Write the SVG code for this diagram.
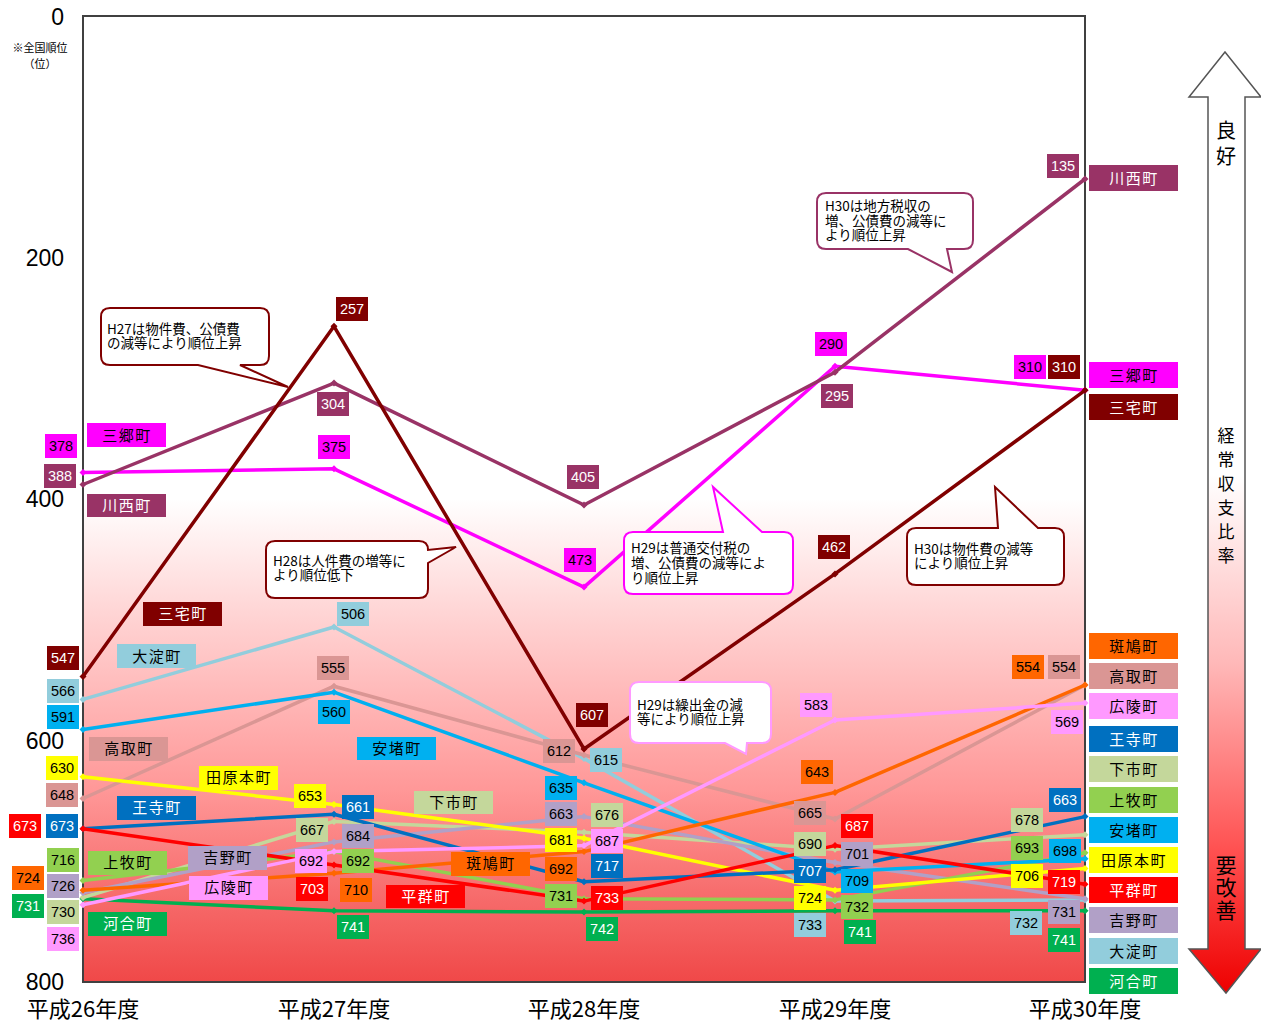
<svg xmlns="http://www.w3.org/2000/svg" width="1261" height="1024" viewBox="0 0 1261 1024">
<defs>
<linearGradient id="bg" x1="0" y1="0" x2="0" y2="1">
<stop offset="0" stop-color="#ffffff"/>
<stop offset="0.5" stop-color="#ffffff"/>
<stop offset="0.62" stop-color="#ffd4d4"/>
<stop offset="0.8" stop-color="#ff9898"/>
<stop offset="1" stop-color="#f04848"/>
</linearGradient>
<linearGradient id="arr" x1="0" y1="0" x2="0" y2="1">
<stop offset="0" stop-color="#ffffff"/>
<stop offset="0.45" stop-color="#ffffff"/>
<stop offset="0.65" stop-color="#ffb8b8"/>
<stop offset="0.85" stop-color="#ff5050"/>
<stop offset="1" stop-color="#ee0000"/>
</linearGradient>
<marker id="m1" viewBox="-4 -4 8 8" markerWidth="8" markerHeight="8" markerUnits="userSpaceOnUse"><path d="M0,-3.5L3.5,0L0,3.5L-3.5,0Z" fill="#993366"/></marker>
<marker id="m2" viewBox="-4 -4 8 8" markerWidth="8" markerHeight="8" markerUnits="userSpaceOnUse"><path d="M0,-3.5L3.5,0L0,3.5L-3.5,0Z" fill="#FF00FF"/></marker>
<marker id="m3" viewBox="-4 -4 8 8" markerWidth="8" markerHeight="8" markerUnits="userSpaceOnUse"><path d="M0,-3.5L3.5,0L0,3.5L-3.5,0Z" fill="#800000"/></marker>
<marker id="m4" viewBox="-4 -4 8 8" markerWidth="8" markerHeight="8" markerUnits="userSpaceOnUse"><path d="M0,-3.5L3.5,0L0,3.5L-3.5,0Z" fill="#92CDDC"/></marker>
<marker id="m5" viewBox="-4 -4 8 8" markerWidth="8" markerHeight="8" markerUnits="userSpaceOnUse"><path d="M0,-3.5L3.5,0L0,3.5L-3.5,0Z" fill="#00B0F0"/></marker>
<marker id="m6" viewBox="-4 -4 8 8" markerWidth="8" markerHeight="8" markerUnits="userSpaceOnUse"><path d="M0,-3.5L3.5,0L0,3.5L-3.5,0Z" fill="#FFFF00"/></marker>
<marker id="m7" viewBox="-4 -4 8 8" markerWidth="8" markerHeight="8" markerUnits="userSpaceOnUse"><path d="M0,-3.5L3.5,0L0,3.5L-3.5,0Z" fill="#DA9694"/></marker>
<marker id="m8" viewBox="-4 -4 8 8" markerWidth="8" markerHeight="8" markerUnits="userSpaceOnUse"><path d="M0,-3.5L3.5,0L0,3.5L-3.5,0Z" fill="#0070C0"/></marker>
<marker id="m9" viewBox="-4 -4 8 8" markerWidth="8" markerHeight="8" markerUnits="userSpaceOnUse"><path d="M0,-3.5L3.5,0L0,3.5L-3.5,0Z" fill="#FF0000"/></marker>
<marker id="m10" viewBox="-4 -4 8 8" markerWidth="8" markerHeight="8" markerUnits="userSpaceOnUse"><path d="M0,-3.5L3.5,0L0,3.5L-3.5,0Z" fill="#92D050"/></marker>
<marker id="m11" viewBox="-4 -4 8 8" markerWidth="8" markerHeight="8" markerUnits="userSpaceOnUse"><path d="M0,-3.5L3.5,0L0,3.5L-3.5,0Z" fill="#FF6600"/></marker>
<marker id="m12" viewBox="-4 -4 8 8" markerWidth="8" markerHeight="8" markerUnits="userSpaceOnUse"><path d="M0,-3.5L3.5,0L0,3.5L-3.5,0Z" fill="#B1A0C7"/></marker>
<marker id="m13" viewBox="-4 -4 8 8" markerWidth="8" markerHeight="8" markerUnits="userSpaceOnUse"><path d="M0,-3.5L3.5,0L0,3.5L-3.5,0Z" fill="#C4D79B"/></marker>
<marker id="m14" viewBox="-4 -4 8 8" markerWidth="8" markerHeight="8" markerUnits="userSpaceOnUse"><path d="M0,-3.5L3.5,0L0,3.5L-3.5,0Z" fill="#FF99FF"/></marker>
<marker id="m15" viewBox="-4 -4 8 8" markerWidth="8" markerHeight="8" markerUnits="userSpaceOnUse"><path d="M0,-3.5L3.5,0L0,3.5L-3.5,0Z" fill="#00B050"/></marker>
</defs>
<style>
text{font-family:"Noto Sans CJK JP","Liberation Sans",sans-serif;}
.ax{font-family:"Liberation Sans","Noto Sans CJK JP",sans-serif;font-size:23px;text-anchor:end;fill:#000}
.xl{font-size:22px;text-anchor:middle;fill:#000}
.sm{font-size:11px;text-anchor:middle;fill:#000}
.vt{font-size:19px;text-anchor:middle;fill:#000}
.ln{fill:none;stroke-width:3.5;stroke-linejoin:round}
.v rect{stroke:none}
.v text{font-family:"Liberation Sans","Noto Sans CJK JP",sans-serif;font-size:14.5px;text-anchor:middle}
.n text{font-size:15px;text-anchor:middle;letter-spacing:1.5px}
.co{fill:#fff;stroke-width:2}
.co text{font-size:13.5px;fill:#000;stroke:none}
.w{fill:#fff}.b{fill:#000}
.c1{fill:#993366}.c2{fill:#FF00FF}.c3{fill:#800000}.c4{fill:#92CDDC}.c5{fill:#00B0F0}
.c6{fill:#FFFF00}.c7{fill:#DA9694}.c8{fill:#0070C0}.c9{fill:#FF0000}.c10{fill:#92D050}
.c11{fill:#FF6600}.c12{fill:#B1A0C7}.c13{fill:#C4D79B}.c14{fill:#FF99FF}.c15{fill:#00B050}
</style>

<rect x="0" y="0" width="1261" height="1024" fill="#fff"/>

<g id="plot">
<rect x="83" y="16" width="1002" height="966" fill="url(#bg)" stroke="#404040" stroke-width="2"/>
</g>

<g id="axes">
<text class="ax" x="64" y="25">0</text>
<text class="ax" x="64" y="266">200</text>
<text class="ax" x="64" y="507">400</text>
<text class="ax" x="64" y="749">600</text>
<text class="ax" x="64" y="990">800</text>
<text class="sm" x="40" y="52">※全国順位</text>
<text class="sm" x="40" y="68">（位）</text>
<text class="xl" x="83" y="1017">平成26年度</text>
<text class="xl" x="334" y="1017">平成27年度</text>
<text class="xl" x="584" y="1017">平成28年度</text>
<text class="xl" x="835" y="1017">平成29年度</text>
<text class="xl" x="1085" y="1017">平成30年度</text>
</g>

<g id="arrow">
<path d="M1225,52 L1261,97 L1245,97 L1245,949 L1261,949 L1226,993 L1189,949 L1208,949 L1208,97 L1189,97 Z" fill="url(#arr)" stroke="#555" stroke-width="1.5" stroke-linejoin="miter"/>
<text class="vt" x="1226" y="138" style="font-size:20px">良</text>
<text class="vt" x="1226" y="164" style="font-size:20px">好</text>
<text class="vt" x="1226" y="442" style="font-size:17px">経</text>
<text class="vt" x="1226" y="466" style="font-size:17px">常</text>
<text class="vt" x="1226" y="490" style="font-size:17px">収</text>
<text class="vt" x="1226" y="514" style="font-size:17px">支</text>
<text class="vt" x="1226" y="538" style="font-size:17px">比</text>
<text class="vt" x="1226" y="562" style="font-size:17px">率</text>
<text class="vt" x="1226" y="873" style="font-size:21px">要</text>
<text class="vt" x="1226" y="895" style="font-size:21px">改</text>
<text class="vt" x="1226" y="918" style="font-size:21px">善</text>
</g>

<g id="connectors">
<polyline class="ln" stroke="#00B050" marker-start="url(#m15)" marker-mid="url(#m15)" marker-end="url(#m15)" points="83,898.7 334,910.8 584,912 835,910.8 1085,910.8"/>
<polyline class="ln" stroke="#92CDDC" marker-start="url(#m4)" marker-mid="url(#m4)" marker-end="url(#m4)" points="83,699.4 334,627 584,758.6 835,901.1 1085,899.9"/>
<polyline class="ln" stroke="#C4D79B" marker-start="url(#m13)" marker-mid="url(#m13)" marker-end="url(#m13)" points="83,897.5 334,821.4 584,832.3 835,849.2 1085,834.7"/>
<polyline class="ln" stroke="#DA9694" marker-start="url(#m7)" marker-mid="url(#m7)" marker-end="url(#m7)" points="83,798.5 334,686.2 584,755 835,819 1085,685"/>
<polyline class="ln" stroke="#B1A0C7" marker-start="url(#m12)" marker-mid="url(#m12)" marker-end="url(#m12)" points="83,892.7 334,841.9 584,816.6 835,862.5 1085,898.7"/>
<polyline class="ln" stroke="#92D050" marker-start="url(#m10)" marker-mid="url(#m10)" marker-end="url(#m10)" points="83,880.6 334,851.6 584,898.7 835,899.9 1085,852.8"/>
<polyline class="ln" stroke="#FFFF00" marker-start="url(#m6)" marker-mid="url(#m6)" marker-end="url(#m6)" points="83,776.7 334,804.5 584,838.3 835,890.2 1085,868.5"/>
<polyline class="ln" stroke="#00B0F0" marker-start="url(#m5)" marker-mid="url(#m5)" marker-end="url(#m5)" points="83,729.6 334,692.2 584,782.8 835,872.1 1085,858.8"/>
<polyline class="ln" stroke="#FF6600" marker-start="url(#m11)" marker-mid="url(#m11)" marker-end="url(#m11)" points="83,890.2 334,873.3 584,851.6 835,792.4 1085,685"/>
<polyline class="ln" stroke="#0070C0" marker-start="url(#m8)" marker-mid="url(#m8)" marker-end="url(#m8)" points="83,828.7 334,814.2 584,881.8 835,869.7 1085,816.6"/>
<polyline class="ln" stroke="#FF0000" marker-start="url(#m9)" marker-mid="url(#m9)" marker-end="url(#m9)" points="83,828.7 334,864.9 584,901.1 835,845.6 1085,884.2"/>
<polyline class="ln" stroke="#FF99FF" marker-start="url(#m14)" marker-mid="url(#m14)" marker-end="url(#m14)" points="83,904.7 334,851.6 584,845.6 835,720 1085,703.1"/>
<polyline class="ln" stroke="#FF00FF" marker-start="url(#m2)" marker-mid="url(#m2)" marker-end="url(#m2)" points="83,472.4 334,468.8 584,587.1 835,366.2 1085,390.3"/>
<polyline class="ln" stroke="#993366" marker-start="url(#m1)" marker-mid="url(#m1)" marker-end="url(#m1)" points="83,484.5 334,383.1 584,505 835,372.2 1085,179"/>
<polyline class="ln" stroke="#800000" marker-start="url(#m3)" marker-mid="url(#m3)" marker-end="url(#m3)" points="83,676.5 334,326.3 584,749 835,573.9 1085,390.3"/>
</g>

<g id="callouts">
<g id="note-h27" class="co" stroke="#800000">
<path d="M110,308 H260 Q269,308 269,317 V356 Q269,365 260,365 H240 L288,387 L198,365 H110 Q101,365 101,356 V317 Q101,308 110,308 Z"/>
<text x="107" y="334">H27は物件費、公債費<tspan x="107" y="348">の減等により順位上昇</tspan></text>
</g>
<g id="note-h28" class="co" stroke="#800000">
<path d="M275,541 H419 Q428,541 428,550 L456,547 L428,563 V589 Q428,598 419,598 H275 Q266,598 266,589 V550 Q266,541 275,541 Z"/>
<text x="273" y="566">H28は人件費の増等に<tspan x="273" y="580">より順位低下</tspan></text>
</g>
<g id="note-h29a" class="co" stroke="#FF00FF">
<path d="M633,532 H723 L713,487 L762,532 H784 Q793,532 793,541 V585 Q793,594 784,594 H633 Q624,594 624,585 V541 Q624,532 633,532 Z"/>
<text x="631" y="553">H29は普通交付税の<tspan x="631" y="568">増、公債費の減等によ</tspan><tspan x="631" y="583">り順位上昇</tspan></text>
</g>
<g id="note-h29b" class="co" stroke="#FF99FF">
<path d="M639,682 H762 Q771,682 771,691 V734 Q771,743 762,743 H747 L746,754 L725,743 H639 Q630,743 630,734 V691 Q630,682 639,682 Z"/>
<text x="637" y="710">H29は繰出金の減<tspan x="637" y="724">等により順位上昇</tspan></text>
</g>
<g id="note-h30a" class="co" stroke="#800000">
<path d="M916,528 H998 L995,487 L1038,528 H1055 Q1064,528 1064,537 V576 Q1064,585 1055,585 H916 Q907,585 907,576 V537 Q907,528 916,528 Z"/>
<text x="914" y="554">H30は物件費の減等<tspan x="914" y="568">により順位上昇</tspan></text>
</g>
<g id="note-h30b" class="co" stroke="#993366">
<path d="M826,193 H964 Q973,193 973,202 V240 Q973,249 964,249 H947 L952,272 L908,249 H826 Q817,249 817,240 V202 Q817,193 826,193 Z"/>
<text x="825" y="211">H30は地方税収の<tspan x="825" y="225.5">増、公債費の減等に</tspan><tspan x="825" y="240">より順位上昇</tspan></text>
</g>
</g>

<g id="values" class="v">
<g id="v26"><rect class="c2" x="45" y="434" width="32" height="24"/><text class="b" x="61" y="451">378</text>
<rect class="c1" x="44" y="464" width="32" height="24"/><text class="w" x="60" y="481">388</text>
<rect class="c3" x="47" y="646" width="32" height="24"/><text class="w" x="63" y="663">547</text>
<rect class="c4" x="47" y="679" width="32" height="24"/><text class="b" x="63" y="696">566</text>
<rect class="c5" x="47" y="705" width="32" height="24"/><text class="b" x="63" y="722">591</text>
<rect class="c6" x="46" y="756" width="32" height="24"/><text class="b" x="62" y="773">630</text>
<rect class="c7" x="46" y="783" width="32" height="24"/><text class="b" x="62" y="800">648</text>
<rect class="c9" x="9" y="814" width="32" height="24"/><text class="w" x="25" y="831">673</text>
<rect class="c8" x="46" y="814" width="32" height="24"/><text class="w" x="62" y="831">673</text>
<rect class="c10" x="47" y="848" width="32" height="24"/><text class="b" x="63" y="865">716</text>
<rect class="c11" x="12" y="866" width="32" height="24"/><text class="b" x="28" y="883">724</text>
<rect class="c12" x="47" y="874" width="32" height="24"/><text class="b" x="63" y="891">726</text>
<rect class="c15" x="12" y="894" width="32" height="24"/><text class="w" x="28" y="911">731</text>
<rect class="c13" x="47" y="900" width="32" height="24"/><text class="b" x="63" y="917">730</text>
<rect class="c14" x="47" y="927" width="32" height="24"/><text class="b" x="63" y="944">736</text></g>
<g id="v27"><rect class="c3" x="336" y="297" width="32" height="24"/><text class="w" x="352" y="314">257</text>
<rect class="c1" x="317" y="392" width="32" height="24"/><text class="w" x="333" y="409">304</text>
<rect class="c2" x="318" y="435" width="32" height="24"/><text class="b" x="334" y="452">375</text>
<rect class="c4" x="337" y="602" width="32" height="24"/><text class="b" x="353" y="619">506</text>
<rect class="c7" x="317" y="656" width="32" height="24"/><text class="b" x="333" y="673">555</text>
<rect class="c5" x="318" y="700" width="32" height="24"/><text class="b" x="334" y="717">560</text>
<rect class="c6" x="294" y="784" width="32" height="24"/><text class="b" x="310" y="801">653</text>
<rect class="c8" x="342" y="795" width="32" height="24"/><text class="w" x="358" y="812">661</text>
<rect class="c13" x="296" y="818" width="32" height="24"/><text class="b" x="312" y="835">667</text>
<rect class="c12" x="342" y="824" width="32" height="24"/><text class="b" x="358" y="841">684</text>
<rect class="c14" x="295" y="849" width="32" height="24"/><text class="b" x="311" y="866">692</text>
<rect class="c10" x="342" y="849" width="32" height="24"/><text class="b" x="358" y="866">692</text>
<rect class="c9" x="296" y="877" width="32" height="24"/><text class="w" x="312" y="894">703</text>
<rect class="c11" x="340" y="878" width="32" height="24"/><text class="b" x="356" y="895">710</text>
<rect class="c15" x="337" y="915" width="32" height="24"/><text class="w" x="353" y="932">741</text></g>
<g id="v28"><rect class="c1" x="567" y="465" width="32" height="24"/><text class="w" x="583" y="482">405</text>
<rect class="c2" x="564" y="548" width="32" height="24"/><text class="b" x="580" y="565">473</text>
<rect class="c3" x="576" y="703" width="32" height="24"/><text class="w" x="592" y="720">607</text>
<rect class="c7" x="543" y="739" width="32" height="24"/><text class="b" x="559" y="756">612</text>
<rect class="c4" x="590" y="748" width="32" height="24"/><text class="b" x="606" y="765">615</text>
<rect class="c5" x="545" y="776" width="32" height="24"/><text class="b" x="561" y="793">635</text>
<rect class="c12" x="545" y="802" width="32" height="24"/><text class="b" x="561" y="819">663</text>
<rect class="c13" x="591" y="803" width="32" height="24"/><text class="b" x="607" y="820">676</text>
<rect class="c6" x="545" y="828" width="32" height="24"/><text class="b" x="561" y="845">681</text>
<rect class="c14" x="591" y="829" width="32" height="24"/><text class="b" x="607" y="846">687</text>
<rect class="c11" x="545" y="857" width="32" height="24"/><text class="b" x="561" y="874">692</text>
<rect class="c8" x="591" y="854" width="32" height="24"/><text class="w" x="607" y="871">717</text>
<rect class="c10" x="545" y="884" width="32" height="24"/><text class="b" x="561" y="901">731</text>
<rect class="c9" x="591" y="886" width="32" height="24"/><text class="w" x="607" y="903">733</text>
<rect class="c15" x="586" y="917" width="32" height="24"/><text class="w" x="602" y="934">742</text></g>
<g id="v29"><rect class="c2" x="815" y="332" width="32" height="24"/><text class="b" x="831" y="349">290</text>
<rect class="c1" x="821" y="384" width="32" height="24"/><text class="w" x="837" y="401">295</text>
<rect class="c3" x="818" y="535" width="32" height="24"/><text class="w" x="834" y="552">462</text>
<rect class="c14" x="800" y="693" width="32" height="24"/><text class="b" x="816" y="710">583</text>
<rect class="c11" x="801" y="760" width="32" height="24"/><text class="b" x="817" y="777">643</text>
<rect class="c7" x="794" y="801" width="32" height="24"/><text class="b" x="810" y="818">665</text>
<rect class="c9" x="841" y="814" width="32" height="24"/><text class="w" x="857" y="831">687</text>
<rect class="c13" x="794" y="832" width="32" height="24"/><text class="b" x="810" y="849">690</text>
<rect class="c12" x="841" y="842" width="32" height="24"/><text class="b" x="857" y="859">701</text>
<rect class="c8" x="794" y="859" width="32" height="24"/><text class="w" x="810" y="876">707</text>
<rect class="c5" x="841" y="869" width="32" height="24"/><text class="b" x="857" y="886">709</text>
<rect class="c6" x="794" y="886" width="32" height="24"/><text class="b" x="810" y="903">724</text>
<rect class="c10" x="841" y="895" width="32" height="24"/><text class="b" x="857" y="912">732</text>
<rect class="c4" x="794" y="913" width="32" height="24"/><text class="b" x="810" y="930">733</text>
<rect class="c15" x="844" y="920" width="32" height="24"/><text class="w" x="860" y="937">741</text></g>
<g id="v30"><rect class="c1" x="1047" y="154" width="32" height="24"/><text class="w" x="1063" y="171">135</text>
<rect class="c2" x="1014" y="355" width="32" height="24"/><text class="b" x="1030" y="372">310</text>
<rect class="c3" x="1048" y="355" width="32" height="24"/><text class="w" x="1064" y="372">310</text>
<rect class="c11" x="1012" y="655" width="32" height="24"/><text class="b" x="1028" y="672">554</text>
<rect class="c7" x="1048" y="655" width="32" height="24"/><text class="b" x="1064" y="672">554</text>
<rect class="c14" x="1051" y="710" width="32" height="24"/><text class="b" x="1067" y="727">569</text>
<rect class="c8" x="1049" y="788" width="32" height="24"/><text class="w" x="1065" y="805">663</text>
<rect class="c13" x="1011" y="808" width="32" height="24"/><text class="b" x="1027" y="825">678</text>
<rect class="c10" x="1011" y="836" width="32" height="24"/><text class="b" x="1027" y="853">693</text>
<rect class="c5" x="1049" y="839" width="32" height="24"/><text class="b" x="1065" y="856">698</text>
<rect class="c6" x="1011" y="864" width="32" height="24"/><text class="b" x="1027" y="881">706</text>
<rect class="c9" x="1048" y="870" width="32" height="24"/><text class="w" x="1064" y="887">719</text>
<rect class="c12" x="1048" y="900" width="32" height="24"/><text class="b" x="1064" y="917">731</text>
<rect class="c4" x="1010" y="911" width="32" height="24"/><text class="b" x="1026" y="928">732</text>
<rect class="c15" x="1048" y="928" width="32" height="24"/><text class="w" x="1064" y="945">741</text></g>
</g>

<g id="series-labels" class="n">
<g id="lbl-sango"><rect class="c2" x="87" y="423" width="79" height="24"/><text class="b" x="127" y="441">三郷町</text></g>
<g id="lbl-kawanishi"><rect class="c1" x="87" y="494" width="79" height="23"/><text class="w" x="127" y="511">川西町</text></g>
<g id="lbl-miyake"><rect class="c3" x="143" y="602" width="79" height="24"/><text class="w" x="183" y="619">三宅町</text></g>
<g id="lbl-oyodo"><rect class="c4" x="117" y="644" width="79" height="24"/><text class="b" x="157" y="662">大淀町</text></g>
<g id="lbl-takatori"><rect class="c7" x="89" y="737" width="79" height="24"/><text class="b" x="129" y="754">高取町</text></g>
<g id="lbl-tawaramoto"><rect class="c6" x="199" y="766" width="79" height="24"/><text class="b" x="239" y="783">田原本町</text></g>
<g id="lbl-oji"><rect class="c8" x="117" y="796" width="79" height="24"/><text class="w" x="157" y="813">王寺町</text></g>
<g id="lbl-kanmaki"><rect class="c10" x="88" y="851" width="79" height="24"/><text class="b" x="128" y="868">上牧町</text></g>
<g id="lbl-yoshino"><rect class="c12" x="188" y="846" width="79" height="24"/><text class="b" x="228" y="863">吉野町</text></g>
<g id="lbl-koryo"><rect class="c14" x="189" y="876" width="79" height="24"/><text class="b" x="229" y="893">広陵町</text></g>
<g id="lbl-kawai"><rect class="c15" x="88" y="912" width="79" height="24"/><text class="w" x="128" y="929">河合町</text></g>
<g id="lbl-ando"><rect class="c5" x="357" y="737" width="79" height="23"/><text class="b" x="397" y="754">安堵町</text></g>
<g id="lbl-shimoichi"><rect class="c13" x="414" y="791" width="79" height="23"/><text class="b" x="454" y="808">下市町</text></g>
<g id="lbl-ikaruga"><rect class="c11" x="451" y="852" width="79" height="24"/><text class="b" x="491" y="869">斑鳩町</text></g>
<g id="lbl-heguri"><rect class="c9" x="386" y="885" width="79" height="23"/><text class="w" x="426" y="902">平群町</text></g>
</g>

<g id="legend" class="n">
<g id="leg-kawanishi"><rect class="c1" x="1089" y="165" width="89" height="26"/><text class="w" x="1134" y="184">川西町</text></g>
<g id="leg-sango"><rect class="c2" x="1089" y="362" width="89" height="26"/><text class="b" x="1134" y="381">三郷町</text></g>
<g id="leg-miyake"><rect class="c3" x="1089" y="394" width="89" height="26"/><text class="w" x="1134" y="413">三宅町</text></g>
<g id="leg-ikaruga"><rect class="c11" x="1089" y="633" width="89" height="26"/><text class="b" x="1134" y="652">斑鳩町</text></g>
<g id="leg-takatori"><rect class="c7" x="1089" y="663" width="89" height="26"/><text class="b" x="1134" y="682">高取町</text></g>
<g id="leg-koryo"><rect class="c14" x="1089" y="693" width="89" height="26"/><text class="b" x="1134" y="712">広陵町</text></g>
<g id="leg-oji"><rect class="c8" x="1089" y="726" width="89" height="26"/><text class="w" x="1134" y="745">王寺町</text></g>
<g id="leg-shimoichi"><rect class="c13" x="1089" y="756" width="89" height="26"/><text class="b" x="1134" y="775">下市町</text></g>
<g id="leg-kanmaki"><rect class="c10" x="1089" y="787" width="89" height="26"/><text class="b" x="1134" y="806">上牧町</text></g>
<g id="leg-ando"><rect class="c5" x="1089" y="817" width="89" height="26"/><text class="b" x="1134" y="836">安堵町</text></g>
<g id="leg-tawaramoto"><rect class="c6" x="1089" y="847" width="89" height="26"/><text class="b" x="1134" y="866">田原本町</text></g>
<g id="leg-heguri"><rect class="c9" x="1089" y="877" width="89" height="26"/><text class="w" x="1134" y="896">平群町</text></g>
<g id="leg-yoshino"><rect class="c12" x="1089" y="907" width="89" height="26"/><text class="b" x="1134" y="926">吉野町</text></g>
<g id="leg-oyodo"><rect class="c4" x="1089" y="938" width="89" height="26"/><text class="b" x="1134" y="957">大淀町</text></g>
<g id="leg-kawai"><rect class="c15" x="1089" y="968" width="89" height="26"/><text class="w" x="1134" y="987">河合町</text></g>
</g>
</svg>
